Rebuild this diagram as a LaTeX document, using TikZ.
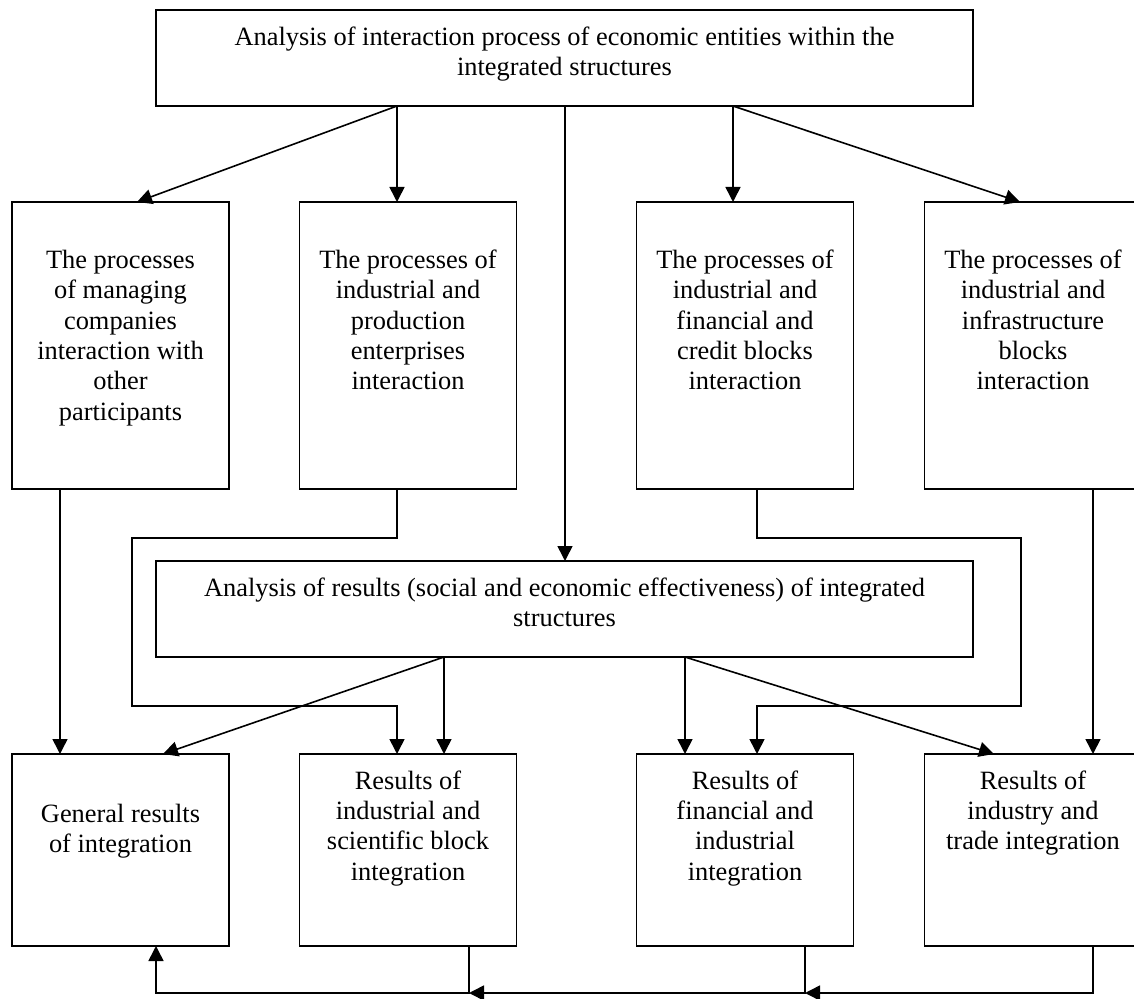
\documentclass[tikz,border=0pt]{standalone}
\usepackage{fontspec}
\setmainfont{Liberation Serif}
\usetikzlibrary{arrows.meta}
\newcommand{\boxtext}[4]{\parbox[c][#2][t]{#1}{\centering\rule{0pt}{#3}#4}}

\begin{document}
\begin{tikzpicture}[x=0.5pt,y=-0.5pt,line width=0.8pt,
  block/.style={draw,inner sep=0pt,outer sep=0pt,font=\fontsize{13.2}{15.2}\selectfont},
  arr/.style={-{Triangle[length=7.5pt,width=7.5pt]}}]
\useasboundingbox (0,0) rectangle (1134,999);
\node [block] (top) at (564.5,58) {\boxtext{408.5pt}{48pt}{17.6pt}{Analysis of interaction process of economic entities within the\\integrated structures}};
\node [block] (p1) at (120.5,345.5) {\boxtext{108.5pt}{143.5pt}{33.2pt}{The processes\\of managing\\companies\\interaction with\\other\\participants}};
\node [block] (p2) at (408,345.5) {\boxtext{108.5pt}{143.5pt}{33.2pt}{The processes of\\industrial and\\production\\enterprises\\interaction}};
\node [block] (p3) at (745,345.5) {\boxtext{108.5pt}{143.5pt}{33.2pt}{The processes of\\industrial and\\financial and\\credit blocks\\interaction}};
\node [block] (p4) at (1033,345.5) {\boxtext{108.5pt}{143.5pt}{33.2pt}{The processes of\\industrial and\\infrastructure\\blocks\\interaction}};
\node [block] (ana) at (564.5,609) {\boxtext{408.5pt}{48pt}{17.6pt}{Analysis of results (social and economic effectiveness) of integrated\\structures}};
\node [block] (r1) at (120.5,850) {\boxtext{108.5pt}{96pt}{34.2pt}{General results\\of integration}};
\node [block] (r2) at (408,850) {\boxtext{108.5pt}{96pt}{17.5pt}{Results of\\industrial and\\scientific block\\integration}};
\node [block] (r3) at (745,850) {\boxtext{108.5pt}{96pt}{17.5pt}{Results of\\financial and\\industrial\\integration}};
\node [block] (r4) at (1033,850) {\boxtext{108.5pt}{96pt}{17.5pt}{Results of\\industry and\\trade integration}};
\coordinate (up2) at (132,538);
\coordinate (lo2) at (397,706);
\coordinate (up3) at (1021,538);
\coordinate (lo3) at (757,706);
\coordinate (j1) at (156,993);
\coordinate (j2) at (469,993);
\coordinate (j3) at (805,993);
\draw [arr] (top.south -| 397,0) -- (p1.north -| 137,0);
\draw [arr] (top.south -| 397,0) -- (p2.north -| 397,0);
\draw [arr] (top.south -| 565,0) -- (ana.north -| 565,0);
\draw [arr] (top.south -| 733,0) -- (p3.north -| 733,0);
\draw [arr] (top.south -| 733,0) -- (p4.north -| 1020,0);
\draw [arr] (p1.south -| 60,0) -- (r1.north -| 60,0);
\draw [arr] (p2.south -| lo2) |- (up2) |- (lo2) -- (r2.north -| lo2);
\draw [arr] (p3.south -| lo3) |- (up3) |- (lo3) -- (r3.north -| lo3);
\draw [arr] (p4.south -| 1093,0) -- (r4.north -| 1093,0);
\draw [arr] (ana.south -| 444,0) -- (r1.north -| 163,0);
\draw [arr] (ana.south -| 444,0) -- (r2.north -| 444,0);
\draw [arr] (ana.south -| 685,0) -- (r3.north -| 685,0);
\draw [arr] (ana.south -| 685,0) -- (r4.north -| 994,0);
\draw [arr] (r4.south -| 1093,0) |- (j3);
\draw [arr] (r3.south -| j3) -- (j3) -- (j2);
\draw [arr] (r2.south -| j2) -- (j2) -- (j1) -- (r1.south -| j1);
\end{tikzpicture}
\end{document}
